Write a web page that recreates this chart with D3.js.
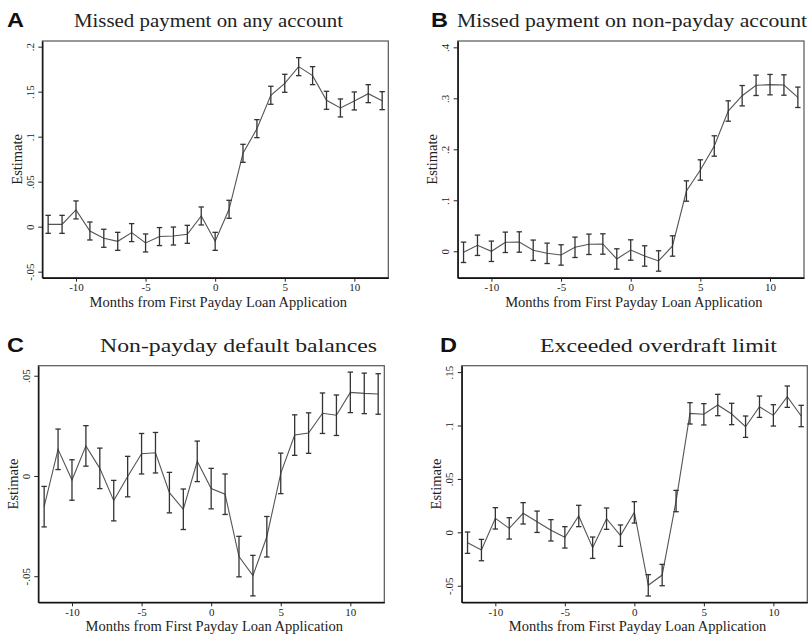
<!DOCTYPE html>
<html><head><meta charset="utf-8">
<script src="https://cdn.jsdelivr.net/npm/d3@7"></script>
<style>body{margin:0;background:#fff} svg{display:block}</style>
</head><body>
<svg id="c" width="811" height="635"></svg>
<script>
// ---------------- data ----------------
const months = [-12,-11,-10,-9,-8,-7,-6,-5,-4,-3,-2,-1,0,1,2,3,4,5,6,7,8,9,10,11,12];
const xTicks = [-10,-5,0,5,10];
const xTickLabels = ["-10","-5","0","5","10"];
const panelLetters = ["A","B","C","D"];
const panelTitles = ["Missed payment on any account","Missed payment on non-payday account","Non-payday default balances","Exceeded overdraft limit"];
const xAxisTitle = "Months from First Payday Loan Application";
const yAxisTitle = "Estimate";

const estA = [0.0026,0.0026,0.0186,-0.0048,-0.0129,-0.0163,-0.0066,-0.0181,-0.0110,-0.0104,-0.0085,0.0119,-0.0163,0.0193,0.0815,0.1089,0.1460,0.1593,0.1778,0.1678,0.1404,0.1319,0.1397,0.1478,0.1400];
const ciA  = [0.010,0.010,0.010,0.010,0.010,0.010,0.010,0.010,0.010,0.010,0.010,0.010,0.010,0.010,0.010,0.010,0.010,0.010,0.010,0.010,0.010,0.010,0.010,0.010,0.010];
const yTicksA = [-0.05,0,0.05,0.1,0.15,0.2];
const yTickLabelsA = ["-.05","0",".05",".1",".15",".2"];

const estB = [-0.0020,0.0118,0.0000,0.0176,0.0182,0.0020,-0.0040,-0.0072,0.0078,0.0137,0.0143,-0.0151,0.0025,-0.0092,-0.0190,0.0104,0.1182,0.1594,0.2065,0.2751,0.3051,0.3255,0.3268,0.3261,0.3020];
const ciB  = [0.020,0.020,0.020,0.020,0.020,0.020,0.020,0.020,0.020,0.020,0.020,0.020,0.020,0.020,0.020,0.020,0.020,0.020,0.020,0.020,0.020,0.020,0.020,0.020,0.020];
const yTicksB = [0,0.1,0.2,0.3,0.4];
const yTickLabelsB = ["0",".1",".2",".3",".4"];

const estC = [-0.0153,0.0133,-0.0020,0.0150,0.0038,-0.0123,-0.0003,0.0111,0.0116,-0.0083,-0.0166,0.0073,-0.0063,-0.0091,-0.0402,-0.0497,-0.0303,0.0013,0.0204,0.0214,0.0313,0.0303,0.0417,0.0412,0.0409];
const ciC  = [0.0101,0.0101,0.0101,0.0101,0.0101,0.0101,0.0101,0.0101,0.0101,0.0101,0.0101,0.0101,0.0101,0.0101,0.0101,0.0101,0.0101,0.0101,0.0101,0.0101,0.0101,0.0101,0.0101,0.0101,0.0101];
const yTicksC = [-0.05,0,0.05];
const yTickLabelsC = ["-.05","0",".05"];

const estD = [-0.0097,-0.0166,0.0131,0.0037,0.0178,0.0099,0.0019,-0.0047,0.0153,-0.0144,0.0128,-0.0031,0.0187,-0.0496,-0.0400,0.0293,0.1114,0.1105,0.1192,0.1108,0.0989,0.1176,0.1095,0.1270,0.1089];
const ciD  = [0.010,0.010,0.010,0.010,0.010,0.010,0.010,0.010,0.010,0.010,0.010,0.010,0.010,0.010,0.010,0.010,0.010,0.010,0.010,0.010,0.010,0.010,0.010,0.010,0.010];
const yTicksD = [-0.05,0,0.05,0.1,0.15];
const yTickLabelsD = ["-.05","0",".05",".1",".15"];

// ---------------- layout ----------------
const layout = [
  {x0:42.3, x1:388.3, y0:41,    y1:277.7, ymin:-0.0567, ymax:0.2063, letterX:7,   titleX:74,  titleW:269, base:27},
  {x0:457.7,x1:804,   y0:41,    y1:277.7, ymin:-0.0518, ymax:0.4124, letterX:431, titleX:457, titleW:350, base:27},
  {x0:38.3, x1:384.3, y0:365.7, y1:602.3, ymin:-0.0630, ymax:0.0550, letterX:7,   titleX:100, titleW:277, base:352},
  {x0:461.7,x1:807.3, y0:365.7, y1:602.3, ymin:-0.0655, ymax:0.1560, letterX:440, titleX:540, titleW:237, base:352}
];
const series = [
  {est:estA, ci:ciA, ticks:yTicksA, labels:yTickLabelsA},
  {est:estB, ci:ciB, ticks:yTicksB, labels:yTickLabelsB},
  {est:estC, ci:ciC, ticks:yTicksC, labels:yTickLabelsC},
  {est:estD, ci:ciD, ticks:yTicksD, labels:yTickLabelsD}
];

const svg = d3.select("#c");
const serif = "'Liberation Serif','Times New Roman',serif";

series.forEach((s, i) => {
  const L = layout[i];
  const x = d3.scaleLinear().domain([-12.42, 12.44]).range([L.x0, L.x1]);
  const y = d3.scaleLinear().domain([L.ymin, L.ymax]).range([L.y1, L.y0]);
  const g = svg.append("g");

  // panel letter
  g.append("text").attr("x", L.letterX).attr("y", L.base)
    .attr("font-family","'Liberation Sans',Arial,sans-serif").attr("font-weight","bold")
    .attr("font-size", 21).attr("textLength", 17).attr("lengthAdjust","spacingAndGlyphs")
    .attr("fill","#111").text(panelLetters[i]);
  // panel title
  g.append("text").attr("x", L.titleX).attr("y", L.base)
    .attr("font-family", serif).attr("font-size", 18.5)
    .attr("textLength", L.titleW).attr("lengthAdjust","spacingAndGlyphs")
    .attr("fill","#222").text(panelTitles[i]);

  // plot region frame
  g.append("rect").attr("x", L.x0).attr("y", L.y0)
    .attr("width", L.x1 - L.x0).attr("height", L.y1 - L.y0)
    .attr("fill","none").attr("stroke","#555").attr("stroke-width",1.2);

  // y axis
  const ya = g.append("g").attr("transform", `translate(${L.x0},0)`)
    .call(d3.axisLeft(y).tickValues(s.ticks).tickFormat((d,k)=>s.labels[k]).tickSize(4).tickSizeOuter(0));
  ya.select(".domain").attr("stroke","#111").attr("stroke-width",1.4);
  ya.selectAll(".tick line").attr("stroke","#222").attr("stroke-width",1);
  ya.selectAll(".tick text")
    .attr("x", null).attr("dy", null)
    .attr("transform","translate(-8.5,0) rotate(-90)")
    .attr("text-anchor","middle")
    .attr("font-family", serif).attr("font-size", 11).attr("fill","#222");

  // x axis
  const xa = g.append("g").attr("transform", `translate(0,${L.y1})`)
    .call(d3.axisBottom(x).tickValues(xTicks).tickFormat((d,k)=>xTickLabels[k]).tickSize(4).tickSizeOuter(0).tickPadding(2));
  xa.select(".domain").attr("stroke","#111").attr("stroke-width",1.4);
  xa.selectAll(".tick line").attr("stroke","#222").attr("stroke-width",1);
  xa.selectAll(".tick text").attr("font-family", serif).attr("font-size", 11).attr("fill","#222");

  // axis titles
  g.append("text")
    .attr("transform", `translate(${L.x0 - 25.5},${(L.y0 + L.y1)/2}) rotate(-90)`)
    .attr("text-anchor","middle").attr("dy","0.35em")
    .attr("font-family", serif).attr("font-size", 14.5).attr("fill","#222")
    .text(yAxisTitle);
  g.append("text")
    .attr("x", (L.x0 + L.x1)/2 + 3).attr("y", L.y1 + 29)
    .attr("text-anchor","middle")
    .attr("font-family", serif).attr("font-size", 14.5).attr("fill","#222")
    .text(xAxisTitle);

  // connecting line
  const line = d3.line().x((d,k)=>x(months[k])).y(d=>y(d));
  g.append("path").datum(s.est).attr("d", line)
    .attr("fill","none").attr("stroke","#555").attr("stroke-width",1.1);

  // error bars
  const eb = g.append("g").attr("stroke","#333").attr("stroke-width",1.3).attr("fill","none");
  s.est.forEach((v,k) => {
    const cx = x(months[k]);
    const lo = y(v - s.ci[k]), hi = y(v + s.ci[k]);
    eb.append("line").attr("x1",cx).attr("x2",cx).attr("y1",lo).attr("y2",hi);
    eb.append("line").attr("x1",cx-2.7).attr("x2",cx+2.7).attr("y1",lo).attr("y2",lo);
    eb.append("line").attr("x1",cx-2.7).attr("x2",cx+2.7).attr("y1",hi).attr("y2",hi);
  });
});
</script>
</body></html>
